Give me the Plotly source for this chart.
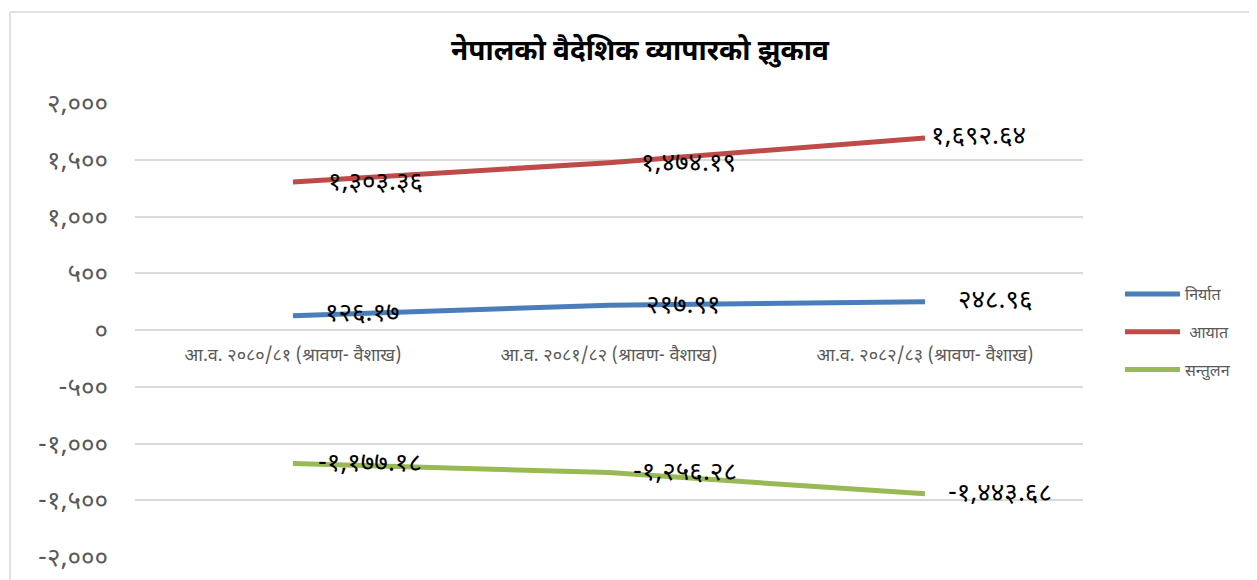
import plotly.graph_objects as go

categories = ["आ.व. २०८०/८१ (श्रावण- वैशाख)",
              "आ.व. २०८१/८२ (श्रावण- वैशाख)",
              "आ.व. २०८२/८३ (श्रावण- वैशाख)"]
series_names = ["निर्यात", " आयात", "सन्तुलन"]
export_vals = [126.17, 217.91, 248.96]
import_vals = [1303.36, 1474.19, 1692.64]
balance_vals = [-1177.18, -1256.28, -1443.68]
tick_vals = [-2000, -1500, -1000, -500, 0, 500, 1000, 1500, 2000]

DEV = str.maketrans("0123456789", "०१२३४५६७८९")

def dev(s):
    return s.translate(DEV)

def fmt_label(v):
    return dev(f"{v:,.2f}")

def fmt_tick(v):
    return dev(f"{v:,.0f}")

colors = ["#4a7ebb", "#be4b48", "#98b954"]
series = [export_vals, import_vals, balance_vals]
# label horizontal/vertical shifts (pixels) per series/point
label_xshift = [[30, 35, 31], [33, 30, 4], [23, 22, 21]]
label_yshift = [[1, -2, 0], [-2, -2, 0], [-1, -1, -1]]

DFONT = "Noto Sans Devanagari, Noto Sans, Lohit Devanagari, sans-serif"

fig = go.Figure()
for name, vals, col in zip(series_names, series, colors):
    fig.add_trace(go.Scatter(
        x=categories, y=vals, mode="lines", name=name,
        legendgroup=name,
        line=dict(color=col, width=5),
        hoverinfo="skip",
    ))

annotations = []
for si, vals in enumerate(series):
    for pi, v in enumerate(vals):
        annotations.append(dict(
            x=categories[pi], y=v, xref="x", yref="y",
            text=fmt_label(v), showarrow=False,
            xanchor="left", yanchor="middle",
            xshift=label_xshift[si][pi], yshift=label_yshift[si][pi],
            font=dict(size=26, color="#000000", family=DFONT),
        ))

# page has an 8px body margin, so work in shifted coordinates
OFF = 8
W, H = 1257 - OFF, 580 - OFF
ml, mt = 135 - OFF, 103 - OFF
pw, ph = 948, 454
mr, mb = W - ml - pw, H - mt - ph

def px2paper_x(px):
    return (px - OFF - ml) / pw

def px2paper_y(py):
    return 1 - (py - OFF - mt) / ph

shapes = [
    dict(type="line", xref="paper", yref="paper",
         x0=px2paper_x(10), x1=px2paper_x(1280),
         y0=px2paper_y(12), y1=px2paper_y(12),
         line=dict(color="#d9d9d9", width=1.5)),
    dict(type="line", xref="paper", yref="paper",
         x0=px2paper_x(10), x1=px2paper_x(10),
         y0=px2paper_y(12), y1=px2paper_y(620),
         line=dict(color="#d9d9d9", width=1.5)),
]

fig.update_layout(
    width=W, height=H,
    margin=dict(l=ml, r=mr, t=mt, b=mb, autoexpand=False),
    paper_bgcolor="white", plot_bgcolor="white",
    title=dict(text="<b>नेपालको वैदेशिक व्यापारको झुकाव</b>",
               x=px2paper_x(640), xref="paper", xanchor="center",
               y=1 - (50 - OFF) / H, yanchor="middle",
               font=dict(size=28, color="#000000", family=DFONT)),
    xaxis=dict(type="category", range=[-0.5, 2.5],
               anchor="free", position=0.5,
               showgrid=False, showline=False, zeroline=False,
               ticks="", ticklabelstandoff=12,
               tickfont=dict(size=18, color="#595959", family=DFONT)),
    yaxis=dict(range=[-2000, 2000], tickvals=tick_vals,
               ticktext=[fmt_tick(v) for v in tick_vals],
               showgrid=True, gridcolor="#d9d9d9", gridwidth=1.5,
               zeroline=False, showline=False, ticks="",
               ticklabelstandoff=26,
               tickfont=dict(size=26, color="#595959", family=DFONT)),
    legend=dict(x=px2paper_x(1120), y=px2paper_y(277), xanchor="left", yanchor="top",
                font=dict(size=16, color="#595959", family=DFONT),
                tracegroupgap=14, itemwidth=55, bgcolor="rgba(0,0,0,0)"),
    annotations=annotations,
    shapes=shapes,
    showlegend=True,
)

fig.write_html("out.html")
